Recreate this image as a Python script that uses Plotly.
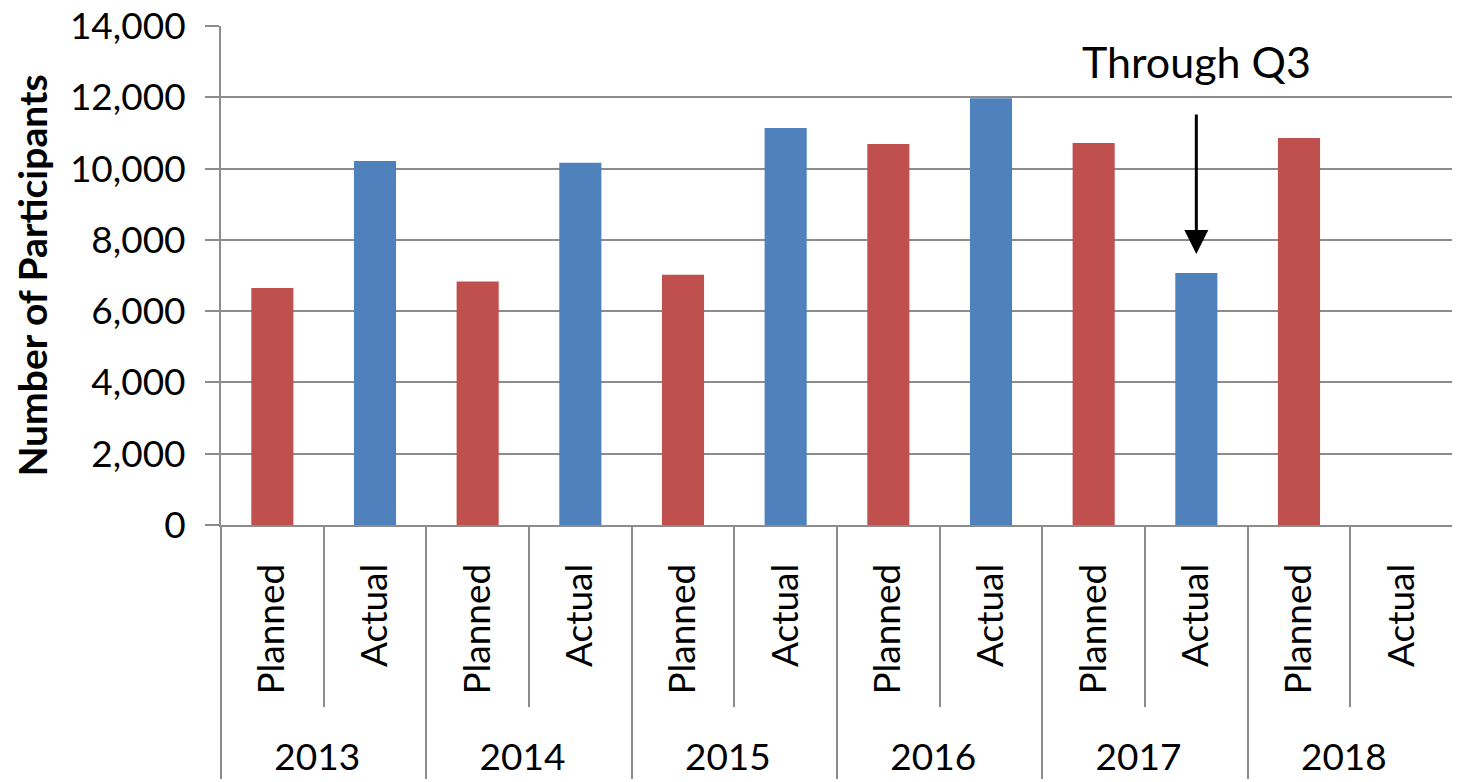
import plotly.graph_objects as go

years = ["2013", "2014", "2015", "2016", "2017", "2018"]
kinds = ["Planned", "Actual"]
planned = [6650, 6830, 7020, 10690, 10720, 10860]
actual = [10210, 10160, 11140, 11970, 7070, None]

RED = "#C0504D"
BLUE = "#4F81BD"
GRID = "#8C8C8C"
FONT = "Lato"
PAD = "\u00a0\u00a0\u00a0"  # pushes the year row down a little

outer, inner, vals, cols = [], [], [], []
for y, p, a in zip(years, planned, actual):
    outer += [y, y]
    inner += [PAD + k for k in kinds]
    vals += [p, a]
    cols += [RED, BLUE]

fig = go.Figure()
fig.add_trace(go.Bar(
    x=[outer, inner], y=vals,
    marker=dict(color=cols, line=dict(width=0)),
    width=0.41, showlegend=False,
))

# "Through Q3" arrow pointing at 2017 actual
idx = years.index("2017") * 2 + 1
fig.add_annotation(
    x=idx, y=actual[4] + 530, xref="x", yref="y",
    ax=idx, ay=actual[4] + 4490, axref="x", ayref="y",
    text="", showarrow=True, arrowhead=2, arrowsize=1.6, arrowwidth=3,
    arrowcolor="black",
)
fig.add_annotation(
    x=idx, y=13000, xref="x", yref="y",
    text="Through Q3", showarrow=False, yanchor="middle",
    font=dict(size=43, color="black", family=FONT),
)

# page body has an 8px margin, so shift the plot area back
fig.update_layout(
    width=1460, height=782,
    margin=dict(l=213, r=15, t=18, b=265),
    paper_bgcolor="white", plot_bgcolor="white",
    font=dict(family=FONT, size=37, color="black"),
    bargap=0.59,
)
fig.update_yaxes(
    range=[0, 14000], dtick=2000, tickformat=",",
    showgrid=True, gridcolor=GRID, gridwidth=2,
    showline=True, linecolor=GRID, linewidth=2,
    ticks="outside", ticklen=14, tickcolor=GRID, tickwidth=2,
    ticklabelstandoff=12, ticklabeloverflow="allow",
    title=dict(text="<b>Number of Participants</b>", font=dict(size=39), standoff=10),
    zeroline=False, automargin=False,
)
fig.update_xaxes(
    type="multicategory",
    showline=True, linecolor=GRID, linewidth=2,
    ticks="outside", tickson="boundaries", ticklen=180, tickcolor=GRID, tickwidth=2,
    tickangle=-90, ticklabelstandoff=22, ticklabeloverflow="allow",
    showdividers=True, dividercolor=GRID, dividerwidth=2,
    automargin=False,
)

fig.write_html("out.html")
